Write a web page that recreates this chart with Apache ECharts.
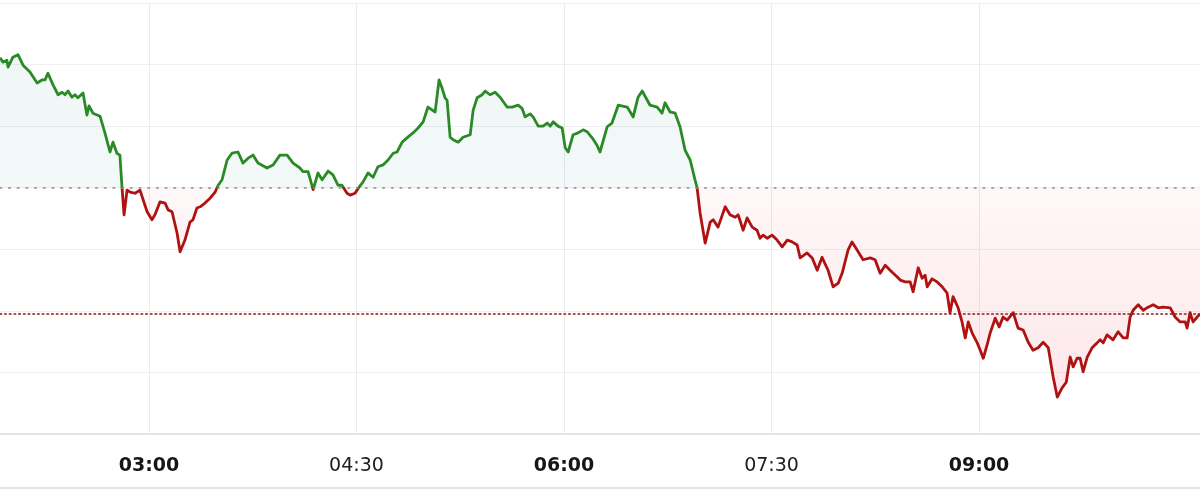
<!DOCTYPE html>
<html>
<head>
<meta charset="utf-8">
<script src="https://cdn.jsdelivr.net/npm/echarts@6/dist/echarts.min.js"></script>
<style>
html,body{margin:0;padding:0;background:#fff;}
#chart{width:1200px;height:500px;}
</style>
</head>
<body>
<div id="chart"></div>
<script>
// time of each point, minutes after midnight
const times = [
115.4,116.7,118.4,118.9,121.0,123.2,125.4,128.4,131.5,133.6,134.9,136.2,138.4,140.6,142.3,143.6,144.9,146.6,147.9,149.2,151.4,153.1,154.0,155.7,158.8,160.9,163.1,164.4,166.1,167.4,168.3,169.2,170.5,171.8,174.0,176.1,179.2,181.3,182.6,184.8,187.0,188.3,190.0,192.2,193.5,195.6,197.8,199.1,200.8,202.2,204.3,206.5,208.7,210.0,211.7,213.9,216.0,218.6,220.8,223.0,225.1,227.3,231.2,233.8,236.8,239.9,242.5,245.5,
246.8,249.0,251.2,253.3,255.1,257.7,259.8,262.0,263.7,265.9,267.2,269.4,270.7,272.8,275.0,277.2,279.3,281.5,283.7,285.9,287.6,289.8,291.9,294.5,296.7,298.9,301.0,304.1,305.8,307.1,308.4,309.3,310.6,311.9,314.1,316.2,319.3,320.6,322.3,324.5,325.8,327.9,330.1,332.3,335.3,337.5,340.1,341.8,343.1,345.3,346.6,348.8,350.9,352.7,354.0,355.3,357.4,359.2,360.5,361.8,363.9,366.1,368.3,370.0,372.2,374.3,375.6,
378.7,380.8,383.5,387.4,390.0,392.1,393.9,397.3,400.4,402.5,403.8,406.0,408.2,410.3,412.5,414.7,416.8,417.7,419.0,421.2,423.4,424.7,426.8,429.9,432.0,434.2,435.5,437.7,439.4,441.6,443.7,445.0,446.3,448.1,450.2,452.4,454.6,456.8,458.9,461.1,462.4,465.4,467.6,469.8,471.9,474.5,476.7,478.9,480.6,483.2,484.9,487.1,489.7,492.8,494.9,497.1,499.3,501.4,504.5,505.8,
507.9,510.1,511.4,513.6,515.3,516.6,517.5,519.6,521.8,524.0,526.1,527.4,528.7,530.9,532.6,534.0,535.3,537.0,539.2,540.5,541.8,543.5,544.8,547.0,548.7,550.4,552.2,554.8,556.9,559.1,561.3,563.4,565.6,567.8,570.0,572.1,573.9,576.0,577.8,579.5,580.8,582.5,583.8,585.1,586.9,589.0,591.2,592.5,593.8,595.5,598.1,600.3,602.5,604.2,605.5,606.8,609.0,611.2,613.3,615.5,617.7,619.8,622.9,625.0,627.2,629.4,630.2,631.5,632.8,634.6,635.8
];
// price level of each point
const prices = [
6.11,6.04,6.07,5.96,6.12,6.16,5.99,5.88,5.70,5.75,5.75,5.86,5.67,5.51,5.55,5.51,5.57,5.47,5.51,5.46,5.54,5.18,5.33,5.21,5.16,4.89,4.58,4.74,4.56,4.53,4.01,3.56,3.96,3.93,3.91,3.96,3.61,3.48,3.56,3.77,3.75,3.64,3.61,3.26,2.96,3.15,3.44,3.48,3.67,3.69,3.75,3.83,3.93,4.04,4.13,4.45,4.56,4.58,4.40,4.48,4.53,4.40,4.32,4.37,4.53,4.53,4.40,4.32,
4.26,4.26,3.97,4.24,4.13,4.27,4.21,4.04,4.04,3.91,3.88,3.91,3.99,4.09,4.24,4.17,4.34,4.37,4.45,4.56,4.58,4.74,4.81,4.89,4.97,5.07,5.31,5.23,5.75,5.62,5.46,5.42,4.82,4.78,4.74,4.82,4.86,5.26,5.46,5.51,5.57,5.51,5.55,5.47,5.31,5.31,5.34,5.29,5.15,5.20,5.15,5.00,5.00,5.05,5.00,5.07,5.00,4.97,4.65,4.58,4.86,4.89,4.94,4.91,4.81,4.69,4.58,
4.99,5.05,5.34,5.31,5.15,5.47,5.57,5.34,5.31,5.21,5.38,5.23,5.21,4.99,4.61,4.45,4.13,4.00,3.59,3.10,3.44,3.48,3.36,3.69,3.56,3.52,3.56,3.31,3.51,3.36,3.31,3.18,3.23,3.18,3.23,3.15,3.04,3.15,3.12,3.07,2.86,2.94,2.86,2.66,2.87,2.66,2.39,2.45,2.61,2.99,3.12,2.99,2.83,2.86,2.83,2.61,2.74,2.66,2.55,2.50,
2.47,2.47,2.31,2.70,2.53,2.58,2.39,2.52,2.47,2.39,2.29,1.97,2.23,2.05,1.82,1.56,1.82,1.64,1.48,1.36,1.23,1.45,1.64,1.88,1.74,1.90,1.85,1.97,1.72,1.69,1.49,1.36,1.40,1.49,1.40,0.93,0.60,0.75,0.84,1.25,1.09,1.23,1.23,1.01,1.25,1.40,1.48,1.53,1.48,1.61,1.53,1.66,1.56,1.56,1.90,2.01,2.10,2.01,2.06,2.10,2.05,2.06,2.05,1.90,1.82,1.82,1.72,1.97,1.82,1.90,1.95
];
const previousClose = 4;
const tickTimes = [180, 270, 360, 450, 540];   // 03:00 04:30 06:00 07:30 09:00
const viewStart = 115.4, viewEnd = 635.8;
const priceMin = 0, priceMax = 7, priceStep = 1;

const n = Math.min(times.length, prices.length);
const seriesData = [];
for (let i = 0; i < n; i++) seriesData.push([times[i], prices[i]]);
const lastPrice = prices[n - 1];
const dMax = Math.max(...prices.slice(0, n));
const dMin = Math.min(...prices.slice(0, n));
// fraction of the (top-to-bottom) extent where the previous close sits
const lineFrac = (dMax - previousClose) / (dMax - dMin);
const aMax = Math.max(dMax, previousClose), aMin = Math.min(dMin, previousClose);
const areaFrac = (aMax - previousClose) / (aMax - aMin);

const UP = '#2a8a26', DOWN = '#b01212';

function hhmm(v) {
  const h = Math.floor(v / 60), m = Math.round(v - h * 60);
  return String(h).padStart(2, '0') + ':' + String(m).padStart(2, '0');
}

const FONT = 'DejaVu Sans';
const chart = echarts.init(document.getElementById('chart'), null, {renderer: 'canvas'});
chart.setOption({
  animation: false,
  backgroundColor: '#ffffff',
  grid: {left: 0, right: 0, top: 3, bottom: 66, outerBoundsMode: 'none', containLabel: false},
  xAxis: {
    type: 'value', min: viewStart, max: viewEnd, offset: 5,
    axisLine: {show: true, lineStyle: {color: '#e2e3e9', width: 2}},
    axisTick: {show: false, customValues: tickTimes},
    axisLabel: {
      customValues: tickTimes, margin: 18,
      formatter: function (v) {
        const s = hhmm(v);
        return (Math.round(v) % 180 === 0) ? '{b|' + s + '}' : '{n|' + s + '}';
      },
      rich: {
        b: {fontFamily: FONT, fontSize: 19, fontWeight: 'bold', color: '#161616'},
        n: {fontFamily: FONT, fontSize: 19, fontWeight: 'normal', color: '#202020'}
      }
    },
    splitLine: {show: true, lineStyle: {color: '#ebebee', width: 1}}
  },
  yAxis: {
    type: 'value', min: priceMin, max: priceMax, interval: priceStep,
    axisLine: {show: false}, axisTick: {show: false}, axisLabel: {show: false},
    splitLine: {show: true, lineStyle: {color: '#efeff1', width: 1}}
  },
  series: [{
    type: 'line',
    data: seriesData,
    showSymbol: false,
    symbol: 'none',
    smooth: false,
    lineStyle: {
      width: 2.8, join: 'round',
      color: new echarts.graphic.LinearGradient(0, 0, 0, 1, [
        {offset: 0, color: UP},
        {offset: lineFrac, color: UP},
        {offset: lineFrac, color: DOWN},
        {offset: 1, color: DOWN}
      ])
    },
    areaStyle: {
      origin: previousClose,
      color: new echarts.graphic.LinearGradient(0, 0, 0, 1, [
        {offset: 0, color: 'rgba(0,125,110,0.09)'},
        {offset: areaFrac, color: 'rgba(0,125,110,0.065)'},
        {offset: areaFrac, color: 'rgba(235,40,60,0.05)'},
        {offset: 1, color: 'rgba(235,40,60,0.16)'}
      ])
    },
    markLine: {
      silent: true, symbol: 'none', animation: false,
      label: {show: false},
      data: [
        {yAxis: previousClose, lineStyle: {color: '#8c8c8c', width: 1.6, type: [1.6, 7.1], cap: 'round'}},
        {yAxis: lastPrice, lineStyle: {color: '#8a1a1a', width: 1.6, type: [1.6, 3.1], cap: 'round'}}
      ]
    }
  }],
  graphic: [{
    type: 'rect', silent: true,
    shape: {x: 0, y: 487, width: 1200, height: 2},
    style: {fill: '#e0e2ea'}
  }]
});
</script>
</body>
</html>
